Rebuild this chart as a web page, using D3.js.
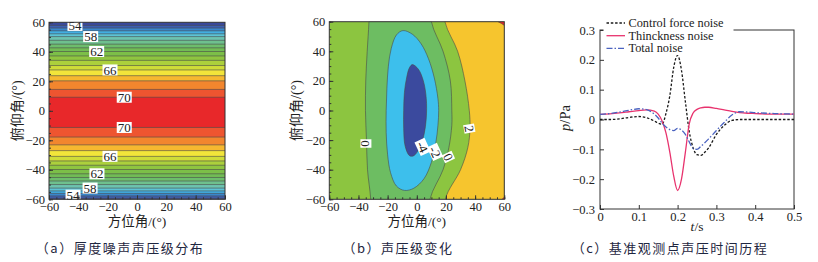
<!DOCTYPE html>
<meta charset="utf-8">
<style type="text/css">
body { margin: 0; background: #fff; }
text { font-family: "Liberation Serif", "Noto Sans CJK SC", serif; fill: #222; }
.cap { font-family: "Noto Sans CJK SC", sans-serif; fill: #1e2640; font-size: 13px; letter-spacing: 1.5px; }
.tick text { font-size: 12.5px; font-family: "Liberation Serif", serif; }
.frame { fill: none; stroke: #333; stroke-width: 1; }
.cline { fill: none; stroke: #4a4a4a; stroke-width: 0.6; }
</style>
<body>
</body>

<script src="https://d3js.org/d3.v7.min.js"></script>
<script>

// ---------- data ----------
var angleTicks = [-60, -40, -20, 0, 20, 40, 60];

// (a) thickness noise: contour levels and their elevation on upper / lower half
var aLevels = [54, 55, 56, 57, 58, 59, 60, 61, 62, 63, 64, 65, 66, 67, 68, 69, 70];
var aUpper  = [57.9, 56.1, 54.2, 52.2, 50.3, 47.8, 45.2, 42.7, 40.2, 37.2, 34.2, 30.7, 27.7, 23.8, 20.3, 14.5, 9.2];
var aLower  = [-59.3, -57.7, -56.0, -54.3, -52.4, -50.0, -47.6, -45.2, -42.7, -39.8, -36.9, -34.0, -30.9, -27.0, -23.1, -17.8, -11.3];
var aColors = ["#3b4a9c", "#3d5fb0", "#3a86cc", "#42aee2", "#5cc3d6", "#6cc3b0", "#6ec08e", "#6dbd6c",
               "#72bc55", "#7cbf48", "#8fc540", "#acd03c", "#cfdc38", "#f2e53a", "#f6b830", "#f2862e",
               "#ee5530", "#e8282a"];
var aLabelVals = [54, 58, 62, 66, 70, 70, 66, 62, 58, 54];
var aLabelAz   = [-42.3, -31.6, -27.5, -18.4, -8.7, -8.7, -18.4, -27.3, -32, -43.6];
var aLabelEl   = [57.9, 50.3, 40.2, 27.7, 9.2, -11.3, -30.9, -42.7, -52.4, -57.2];

// (b) level change contours, [azimuth, elevation]
var bLevel0 = [[-32, 85], [-32.8, 60], [-34, 40], [-35, 20], [-35.2, 0], [-34.5, -20], [-33.8, -40], [-31.6, -60], [-31, -85],
               [8, -85], [9, -60], [18, -40], [22, -25], [24, -10], [24, 0], [23, 20], [18, 40], [10, 60], [9, 85]];
var bLevelM2 = [[-9.5, 54], [-3, 51.5], [3, 45], [8, 35], [12, 22], [14.5, 8], [15, 0], [14.5, -10], [13, -22], [10, -35],
                [5, -46], [-2, -52.5], [-8.5, -54], [-14, -51], [-18, -42], [-20, -30], [-21, -15], [-21, 0], [-20.5, 15],
                [-19.5, 30], [-17.5, 42], [-14, 51]];
var bLevelM4 = [[-3, 31], [1, 28], [4.5, 20], [6.5, 8], [6.5, -5], [5, -16], [2, -25], [-2, -30.5], [-5, -30.5], [-8, -24],
                [-9, -12], [-9, 0], [-8.5, 12], [-7, 22], [-5, 29]];
var bLevel2 = [[18, 85], [19.3, 60], [28, 40], [33, 20], [36, 0], [36.5, -12], [35, -25], [30, -40], [19.5, -60], [18.5, -85]];
var bLevel4Top = [[55.7, 60], [58, 58.8], [60, 57.5]];
var bLevel4Bot = [[58.5, -60], [59.3, -59.2], [60, -58.5]];
var bColors = { low4: "#3b4a9e", low2: "#3dbfec", low0: "#6dbd62", mid: "#8cc540", high2: "#f6c52e", high4: "#e8242a" };
var bLabelVals = ["0", "-4", "-2", "0", "2"];
var bLabelAz   = [-34.9, 4, 12.5, 21.6, 36];
var bLabelEl   = [-22.3, -24.6, -28, -31.4, -12.2];
var bLabelRot  = [90, 65, 65, 65, 80];

// (c) time history at reference observer
var tTime = [0, 0.025, 0.05, 0.075, 0.1, 0.12, 0.14, 0.15, 0.16, 0.17, 0.18, 0.19, 0.2, 0.21, 0.22, 0.23, 0.24,
             0.25, 0.26, 0.27, 0.28, 0.3, 0.32, 0.34, 0.36, 0.38, 0.4, 0.45, 0.5];
var controlNoise = [0, 0, 0.002, 0.007, 0.01, 0.006, -0.005, -0.012, -0.016, 0.02, 0.08, 0.175, 0.215, 0.165, 0.06,
                    -0.04, -0.095, -0.118, -0.12, -0.11, -0.095, -0.05, -0.02, -0.003, 0, 0, 0, 0, 0];
var thicknessNoise = [0.017, 0.019, 0.022, 0.026, 0.03, 0.032, 0.028, 0.018, -0.005, -0.045, -0.11, -0.19, -0.238, -0.2,
                      -0.11, -0.015, 0.022, 0.034, 0.039, 0.041, 0.041, 0.037, 0.032, 0.027, 0.023, 0.021, 0.02, 0.018, 0.018];
var totalNoise = [0.017, 0.02, 0.025, 0.031, 0.036, 0.033, 0.018, 0.005, -0.012, -0.025, -0.034, -0.037, -0.03, -0.035,
                  -0.05, -0.075, -0.097, -0.1, -0.09, -0.078, -0.065, -0.037, -0.01, 0.015, 0.026, 0.025, 0.023, 0.02, 0.018];
var cTimeTicks = [0, 0.1, 0.2, 0.3, 0.4, 0.5];
var cPTicks = [-0.3, -0.2, -0.1, 0, 0.1, 0.2, 0.3];
var legendNames = ["Control force noise", "Thinckness noise", "Total noise"];

// ---------- svg ----------
var svg = d3.select("body").append("svg")
    .attr("width", 818)
    .attr("height", 262);

var defs = svg.append("defs");

function plainAxis(s) {
    s.attr("font-family", null).attr("font-size", null);
    s.select(".domain").remove();
    s.selectAll(".tick line").attr("stroke", "#333");
    s.selectAll(".tick text").attr("fill", "#222");
}

function angleAxes(g, x, y, xTitle, yTitle, yTitleX) {
    var x0 = x.range()[0], x1 = x.range()[1], y0 = y.range()[0], y1 = y.range()[1];
    g.append("g")
        .attr("transform", "translate(0," + y0 + ")")
        .call(d3.axisBottom(x).tickValues(d3.range(-60, 61, 5)).tickSize(-2).tickFormat(""))
        .call(plainAxis);
    g.append("g")
        .attr("transform", "translate(0," + y0 + ")")
        .call(d3.axisBottom(x).tickValues(angleTicks).tickSize(-4).tickPadding(3))
        .call(plainAxis);
    g.append("g")
        .attr("transform", "translate(" + x0 + ",0)")
        .call(d3.axisLeft(y).tickValues(d3.range(-60, 61, 5)).tickSize(-2).tickFormat(""))
        .call(plainAxis);
    g.append("g")
        .attr("transform", "translate(" + x0 + ",0)")
        .call(d3.axisLeft(y).tickValues(angleTicks).tickSize(-4).tickPadding(4))
        .call(plainAxis);
    g.append("rect").attr("class", "frame")
        .attr("x", x0).attr("y", y1).attr("width", x1 - x0).attr("height", y0 - y1);
    g.append("text")
        .attr("x", (x0 + x1) / 2).attr("y", y0 + 27)
        .attr("text-anchor", "middle").style("font-size", "13.5px")
        .text(xTitle);
    g.append("text")
        .attr("transform", "translate(" + yTitleX + "," + (y0 + y1) / 2 + ") rotate(-90)")
        .attr("text-anchor", "middle").attr("dy", "0.35em").style("font-size", "14px")
        .text(yTitle);
}

function boxLabel(g, px, py, rot, txt) {
    var lg = g.append("g").attr("transform", "translate(" + px + "," + py + ") rotate(" + rot + ")");
    var w = txt.length * 6.5 + 2;
    lg.append("rect").attr("x", -w / 2).attr("y", -5.5).attr("width", w).attr("height", 11).attr("fill", "#fff");
    lg.append("text").attr("text-anchor", "middle").attr("dy", "0.35em").style("font-size", "13px").text(txt);
}

// ---------- (a) ----------
var xA = d3.scaleLinear().domain([-60, 60]).range([49, 225]);
var yA = d3.scaleLinear().domain([-60, 60]).range([199.3, 22.3]);
var gA = svg.append("g");

gA.append("rect")
    .attr("x", xA(-60)).attr("y", yA(60))
    .attr("width", xA(60) - xA(-60)).attr("height", yA(-60) - yA(60))
    .attr("fill", aColors[0]);

gA.selectAll(".band")
    .data(aLevels)
  .enter().append("rect")
    .attr("class", "band")
    .attr("x", xA(-60))
    .attr("width", xA(60) - xA(-60))
    .attr("y", function(d, i) { return yA(aUpper[i]); })
    .attr("height", function(d, i) { return yA(aLower[i]) - yA(aUpper[i]); })
    .attr("fill", function(d, i) { return aColors[i + 1]; });

gA.selectAll(".lvl")
    .data(aUpper.concat(aLower))
  .enter().append("line")
    .attr("class", "cline")
    .attr("x1", xA(-60)).attr("x2", xA(60))
    .attr("y1", function(d) { return yA(d); })
    .attr("y2", function(d) { return yA(d); });

aLabelVals.forEach(function(v, i) {
    boxLabel(gA, xA(aLabelAz[i]), yA(aLabelEl[i]), 0, String(v));
});

angleAxes(gA, xA, yA, "方位角/(°)", "俯仰角/(°)", 17.5);

// ---------- (b) ----------
var xB = d3.scaleLinear().domain([-60, 60]).range([329.3, 504.3]);
var yB = d3.scaleLinear().domain([-60, 60]).range([199.3, 21.7]);
var gB = svg.append("g");

defs.append("clipPath").attr("id", "clipB")
  .append("rect")
    .attr("x", xB(-60)).attr("y", yB(60))
    .attr("width", xB(60) - xB(-60)).attr("height", yB(-60) - yB(60));

var closedB = d3.line()
    .x(function(d) { return xB(d[0]); })
    .y(function(d) { return yB(d[1]); })
    .curve(d3.curveCatmullRomClosed);
var smoothB = d3.line()
    .x(function(d) { return xB(d[0]); })
    .y(function(d) { return yB(d[1]); })
    .curve(d3.curveCatmullRom);

var plotB = gB.append("g").attr("clip-path", "url(#clipB)");

plotB.append("rect")
    .attr("x", xB(-60)).attr("y", yB(60))
    .attr("width", xB(60) - xB(-60)).attr("height", yB(-60) - yB(60))
    .attr("fill", bColors.mid);

// region above level 2 (right side)
plotB.append("path")
    .attr("d", smoothB(bLevel2) + "L" + xB(90) + "," + yB(-85) + "L" + xB(90) + "," + yB(85) + "Z")
    .attr("fill", bColors.high2);
plotB.append("path")
    .attr("d", smoothB(bLevel4Top) + "L" + xB(60) + "," + yB(60) + "Z")
    .attr("fill", bColors.high4);
plotB.append("path")
    .attr("d", smoothB(bLevel4Bot) + "L" + xB(60) + "," + yB(-60) + "Z")
    .attr("fill", bColors.high4);

plotB.append("path").attr("d", closedB(bLevel0)).attr("fill", bColors.low0);
plotB.append("path").attr("d", closedB(bLevelM2)).attr("fill", bColors.low2);
plotB.append("path").attr("d", closedB(bLevelM4)).attr("fill", bColors.low4);

[closedB(bLevel0), closedB(bLevelM2), closedB(bLevelM4), smoothB(bLevel2), smoothB(bLevel4Top), smoothB(bLevel4Bot)]
    .forEach(function(d) { plotB.append("path").attr("class", "cline").attr("d", d); });

bLabelVals.forEach(function(v, i) {
    boxLabel(gB, xB(bLabelAz[i]), yB(bLabelEl[i]), bLabelRot[i], v);
});

angleAxes(gB, xB, yB, "方位角/(°)", "俯仰角/(°)", 296.5);

// ---------- (c) ----------
var xC = d3.scaleLinear().domain([0, 0.5]).range([600, 794]);
var yC = d3.scaleLinear().domain([-0.3, 0.3]).range([209, 30]);
var gC = svg.append("g");

gC.append("g")
    .attr("transform", "translate(0," + yC(-0.3) + ")")
    .call(d3.axisBottom(xC).tickValues(cTimeTicks).tickSize(-4).tickPadding(3)
        .tickFormat(function(d) { return d === 0 ? "0" : d3.format(".1f")(d); }))
    .call(plainAxis);
gC.append("g")
    .attr("transform", "translate(" + xC(0) + ",0)")
    .call(d3.axisLeft(yC).tickValues(cPTicks).tickSize(-4).tickPadding(5)
        .tickFormat(function(d) { return d === 0 ? "0" : d3.format(".1f")(d); }))
    .call(plainAxis);

gC.append("rect").attr("class", "frame")
    .attr("x", xC(0)).attr("y", yC(0.3))
    .attr("width", xC(0.5) - xC(0)).attr("height", yC(-0.3) - yC(0.3));

var lineC = d3.line()
    .x(function(d, i) { return xC(tTime[i]); })
    .y(function(d) { return yC(d); })
    .curve(d3.curveMonotoneX);

var seriesC = [
    { values: controlNoise, color: "#1a1a1a", dash: "2.5,1.8" },
    { values: thicknessNoise, color: "#e8336e", dash: null },
    { values: totalNoise, color: "#4b63c0", dash: "6,2,1.5,2" }
];

seriesC.forEach(function(s) {
    gC.append("path")
        .datum(s.values)
        .attr("d", lineC)
        .attr("fill", "none")
        .attr("stroke", s.color)
        .attr("stroke-width", 1.3)
        .attr("stroke-dasharray", s.dash);
});

// legend
gC.append("rect").attr("x", 603.5).attr("y", 15).attr("width", 130).attr("height", 40).attr("fill", "#fff");
legendNames.forEach(function(name, i) {
    var ly = 23 + i * 12.7;
    gC.append("line")
        .attr("x1", 606.5).attr("x2", 625).attr("y1", ly).attr("y2", ly)
        .attr("stroke", seriesC[i].color).attr("stroke-width", 1.3)
        .attr("stroke-dasharray", seriesC[i].dash);
    gC.append("text")
        .attr("x", 628.5).attr("y", ly).attr("dy", "0.33em")
        .style("font-size", "12.3px")
        .text(name);
});

gC.append("text")
    .attr("x", 697).attr("y", 226)
    .attr("text-anchor", "middle").attr("dy", "0.35em").style("font-size", "13.5px")
    .html('<tspan font-style="italic">t</tspan>/s');
gC.append("text")
    .attr("transform", "translate(565,118) rotate(-90)")
    .attr("text-anchor", "middle").attr("dy", "0.35em").style("font-size", "14.5px")
    .html('<tspan font-style="italic">p</tspan>/Pa');

// ---------- captions ----------
var captions = ["（a）厚度噪声声压级分布", "（b）声压级变化", "（c）基准观测点声压时间历程"];
var captionX = [120, 398, 670];
svg.selectAll(".cap")
    .data(captions)
  .enter().append("text")
    .attr("class", "cap")
    .attr("x", function(d, i) { return captionX[i]; })
    .attr("y", 248)
    .attr("dy", "0.35em")
    .attr("text-anchor", "middle")
    .text(function(d) { return d; });

</script>
